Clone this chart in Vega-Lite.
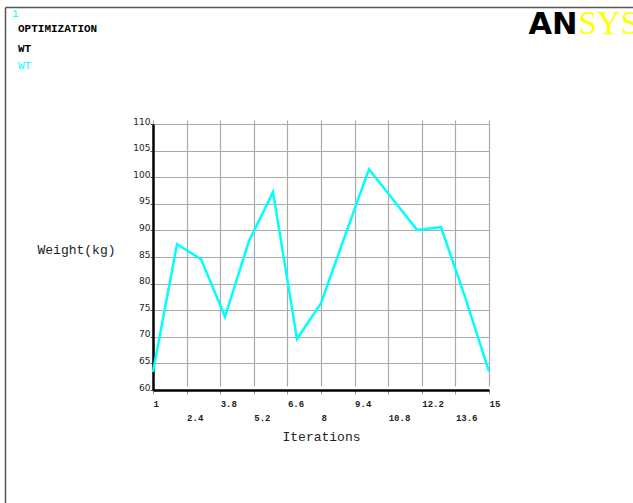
{
  "$schema": "https://vega.github.io/schema/vega-lite/v6.json",
  "width": 628,
  "height": 496,
  "autosize": {"type": "none"},
  "padding": {"left": 5, "top": 7, "right": 0, "bottom": 0},
  "background": "white",
  "config": {"view": {"stroke": null}},
  "title": {
    "text": "1",
    "anchor": "start",
    "frame": "group",
    "orient": "top",
    "offset": 0,
    "baseline": "top",
    "dx": 7,
    "dy": 12,
    "color": "#00ffff",
    "font": "Liberation Mono",
    "fontSize": 11,
    "fontWeight": "normal"
  },
  "data": {
    "values": [
      {"iter": 1, "wt": 63.4, "series": "WT"},
      {"iter": 2, "wt": 87.4, "series": "WT"},
      {"iter": 3, "wt": 84.6, "series": "WT"},
      {"iter": 4, "wt": 73.8, "series": "WT"},
      {"iter": 5, "wt": 88.0, "series": "WT"},
      {"iter": 6, "wt": 97.2, "series": "WT"},
      {"iter": 7, "wt": 69.6, "series": "WT"},
      {"iter": 8, "wt": 76.3, "series": "WT"},
      {"iter": 9, "wt": 89.0, "series": "WT"},
      {"iter": 10, "wt": 101.5, "series": "WT"},
      {"iter": 11, "wt": 95.8, "series": "WT"},
      {"iter": 12, "wt": 90.1, "series": "WT"},
      {"iter": 13, "wt": 90.6, "series": "WT"},
      {"iter": 14, "wt": 77.5, "series": "WT"},
      {"iter": 15, "wt": 63.5, "series": "WT"}
    ]
  },
  "layer": [
    {
      "mark": {"type": "line", "opacity": 0},
      "encoding": {
        "x": {
          "field": "iter",
          "type": "quantitative",
          "scale": {"domain": [1, 15], "nice": false, "zero": false},
          "axis": {
            "orient": "top",
            "domain": true,
            "domainColor": "#555555",
            "domainWidth": 1.5,
            "ticks": false,
            "labels": false,
            "grid": false,
            "title": "AN",
            "titleX": 523,
            "titleY": 26,
            "titleAngle": 0,
            "titleAlign": "left",
            "titleBaseline": "alphabetic",
            "titleFont": "DejaVu Sans",
            "titleFontSize": 30.5,
            "titleFontWeight": "bold",
            "titleColor": "#000000"
          }
        },
        "y": {
          "field": "wt",
          "type": "quantitative",
          "scale": {"domain": [60, 110], "nice": false, "zero": false},
          "axis": {
            "orient": "left",
            "domain": true,
            "domainColor": "#555555",
            "domainWidth": 1.5,
            "ticks": false,
            "labels": false,
            "grid": false,
            "title": "SYS",
            "titleX": 573,
            "titleY": 26,
            "titleAngle": 0,
            "titleAlign": "left",
            "titleBaseline": "alphabetic",
            "titleFont": "Liberation Serif",
            "titleFontSize": 33,
            "titleFontWeight": "normal",
            "titleColor": "#ffff00"
          }
        }
      }
    },
    {
      "mark": {"type": "line", "strokeWidth": 2.5},
      "encoding": {
        "x": {
          "field": "iter",
          "type": "quantitative",
          "scale": {"domain": [1, 15], "range": [148, 484], "nice": false, "zero": false},
          "axis": {
            "orient": "bottom",
            "offset": -113,
            "values": [1, 2.4, 3.8, 5.2, 6.6, 8, 9.4, 10.8, 12.2, 13.6, 15],
            "format": ".1~f",
            "domainColor": "#000000",
            "domainWidth": 2.5,
            "grid": true,
            "gridColor": "#aaaaaa",
            "gridWidth": 1.2,
            "ticks": true,
            "tickSize": 4,
            "tickColor": "#999999",
            "tickWidth": 1,
            "labelFont": "Liberation Mono",
            "labelFontSize": 9,
            "labelFontWeight": "bold",
            "labelColor": "#222222",
            "labelAlign": "left",
            "labelBaseline": "top",
            "labelPadding": {"condition": {"test": "indexof([2.4, 5.2, 8, 10.8, 13.6], datum.value) >= 0", "value": 19}, "value": 5},
            "labelOverlap": false,
            "labelFlush": false,
            "labelBound": false,
            "title": "Iterations",
            "titleX": 316,
            "titleY": 50,
            "titleAlign": "center",
            "titleBaseline": "alphabetic",
            "titleFont": "Liberation Mono",
            "titleFontSize": 13,
            "titleFontWeight": "normal",
            "titleColor": "#222222"
          }
        },
        "y": {
          "field": "wt",
          "type": "quantitative",
          "scale": {"domain": [60, 110], "range": [383, 117], "nice": false, "zero": false},
          "axis": {
            "orient": "left",
            "offset": -148,
            "values": [60, 65, 70, 75, 80, 85, 90, 95, 100, 105, 110],
            "domainColor": "#000000",
            "domainWidth": 2.5,
            "grid": true,
            "gridColor": "#aaaaaa",
            "gridWidth": 1.2,
            "ticks": true,
            "tickSize": 3,
            "tickColor": "#555555",
            "tickWidth": 1,
            "labelFont": "DejaVu Sans",
            "labelFontSize": 9,
            "labelColor": "#222222",
            "labelBaseline": "alphabetic",
            "labelPadding": 0,
            "labelOverlap": false,
            "labelFlush": false,
            "labelBound": false,
            "title": "Weight(kg)",
            "titleX": -116,
            "titleY": 246.5,
            "titleAngle": 0,
            "titleAlign": "left",
            "titleBaseline": "alphabetic",
            "titleFont": "Liberation Mono",
            "titleFontSize": 13,
            "titleFontWeight": "normal",
            "titleColor": "#222222"
          }
        },
        "color": {
          "field": "series",
          "type": "nominal",
          "scale": {"domain": ["WT"], "range": ["#00ffff"]},
          "legend": {
            "orient": "none",
            "legendX": 13,
            "legendY": 16,
            "padding": 0,
            "title": ["OPTIMIZATION", "WT"],
            "titleFont": "Liberation Mono",
            "titleFontSize": 11,
            "titleFontWeight": "bold",
            "titleColor": "#000000",
            "titleLineHeight": 20,
            "titlePadding": 6,
            "labelFont": "Liberation Mono",
            "labelFontSize": 11,
            "labelColor": "#00ffff",
            "labelOffset": -11,
            "symbolSize": 0,
            "symbolStrokeWidth": 0,
            "symbolOpacity": 0
          }
        }
      }
    }
  ],
  "resolve": {"scale": {"x": "independent", "y": "independent"}}
}
